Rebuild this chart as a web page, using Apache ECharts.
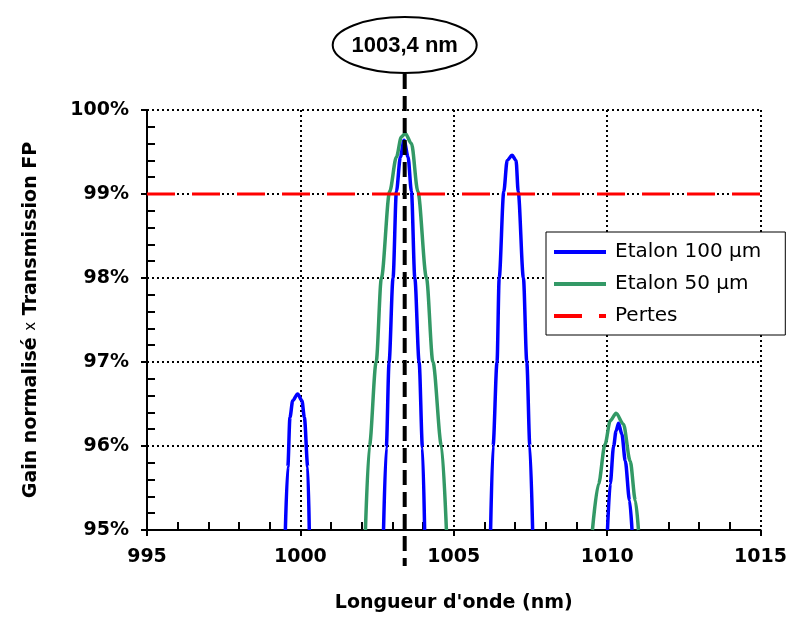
<!DOCTYPE html>
<html lang="fr">
<head>
<meta charset="UTF-8">
<title>Gain x Transmission FP</title>
<style>
* { margin: 0; padding: 0; }
#chart { width: 790px; height: 623px; }
</style>
</head>
<body>
<div id="chart"></div>
<script src="https://cdn.jsdelivr.net/npm/echarts@6/dist/echarts.min.js"></script>
<script>
// values: [wavelength nm, gain x transmission %]
var etalon100 = [
    [[999.51, 95.0], [999.59, 95.75], [999.66, 96.34], [999.75, 96.54], [999.91, 96.62], [1000.05, 96.54], [1000.13, 96.34], [1000.24, 95.75], [1000.29, 95.0]],
    [[1002.71, 95.0], [1002.80, 95.98], [1002.89, 96.99], [1003.02, 98.0], [1003.13, 99.03], [1003.26, 99.44], [1003.38, 99.64], [1003.51, 99.44], [1003.62, 99.03], [1003.73, 98.0], [1003.87, 97.0], [1003.98, 95.98], [1004.05, 95.0]],
    [[1006.20, 95.0], [1006.28, 96.0], [1006.41, 97.0], [1006.48, 98.0], [1006.63, 99.03], [1006.74, 99.40], [1006.90, 99.46], [1007.03, 99.40], [1007.10, 99.03], [1007.27, 98.0], [1007.38, 97.0], [1007.48, 96.0], [1007.57, 95.0]],
    [[1010.01, 95.0], [1010.10, 95.55], [1010.21, 96.0], [1010.29, 96.18], [1010.37, 96.27], [1010.48, 96.14], [1010.59, 95.82], [1010.73, 95.35], [1010.81, 95.0]]
];
var etalon50 = [
    [[1002.12, 95.0], [1002.25, 96.0], [1002.47, 97.0], [1002.64, 98.0], [1002.91, 99.03], [1003.13, 99.44], [1003.29, 99.68], [1003.42, 99.72], [1003.62, 99.6], [1003.83, 99.03], [1004.11, 98.0], [1004.32, 97.0], [1004.60, 96.0], [1004.76, 95.0]],
    [[1009.52, 95.0], [1009.72, 95.55], [1009.93, 96.02], [1010.10, 96.30], [1010.29, 96.39], [1010.53, 96.26], [1010.75, 95.82], [1010.92, 95.35], [1011.02, 95.0]]
];
var pertes = [[995, 99], [1015, 99]];
var peakWavelength = 1003.4;
var peakLabel = '1003,4 nm';

var chart = echarts.init(document.getElementById('chart'));
var font = 'DejaVu Sans';
var dotted = { color: '#000', width: 2, type: [2, 3] };

var series = [];
etalon100.forEach(function (pts) {
    series.push({
        name: 'Etalon 100 µm', type: 'line', data: pts, symbol: 'none', showSymbol: false,
        smooth: 0.3, smoothMonotone: 'x', z: 4,
        lineStyle: { color: '#0000ff', width: 3.5 }, itemStyle: { color: '#0000ff' }
    });
});
etalon50.forEach(function (pts) {
    series.push({
        name: 'Etalon 50 µm', type: 'line', data: pts, symbol: 'none', showSymbol: false,
        smooth: 0.3, smoothMonotone: 'x', z: 3,
        lineStyle: { color: '#339966', width: 3.5 }, itemStyle: { color: '#339966' }
    });
});
series.push({
    name: 'Pertes', type: 'line', data: pertes, symbol: 'none', showSymbol: false, z: 5,
    lineStyle: { color: '#ff0000', width: 3, type: [28, 17] }, itemStyle: { color: '#ff0000' }
});

chart.setOption({
    animation: false,
    backgroundColor: '#fff',
    grid: { left: 147, right: 28, top: 110, bottom: 93 },
    legend: {
        orient: 'vertical', left: 546, top: 232,
        data: ['Etalon 100 µm', 'Etalon 50 µm', 'Pertes'],
        backgroundColor: '#fff', borderColor: '#000', borderWidth: 1, borderRadius: 0,
        padding: [10, 24, 9, 6], itemGap: 12, itemWidth: 52, itemHeight: 14,
        itemStyle: { opacity: 0 },
        lineStyle: { width: 4 },
        textStyle: { fontFamily: font, fontSize: 20, color: '#000', padding: [0, 0, 0, 4] }
    },
    xAxis: {
        type: 'value', min: 995, max: 1015, interval: 5,
        name: "Longueur d'onde (nm)", nameLocation: 'middle', nameGap: 64,
        nameTextStyle: { fontFamily: font, fontSize: 19, fontWeight: 'bold', color: '#000' },
        axisLine: { onZero: false, lineStyle: { color: '#000', width: 2 } },
        axisTick: { inside: false, length: 6, lineStyle: { color: '#000', width: 2 } },
        minorTick: { show: true, splitNumber: 5, length: -8, lineStyle: { color: '#000', width: 2 } },
        axisLabel: {
            margin: 18, fontFamily: font, fontSize: 19, fontWeight: 'bold', color: '#000',
            formatter: function (v) { return String(v); }
        },
        splitLine: { show: true, lineStyle: dotted }
    },
    yAxis: {
        type: 'value', min: 95, max: 100, interval: 1,
        name: 'Gain normalisé {x|x} Transmission FP', nameLocation: 'middle', nameGap: 106, nameRotate: 90,
        nameTextStyle: {
            fontFamily: font, fontSize: 19, fontWeight: 'bold', color: '#000',
            rich: { x: { fontFamily: font, fontSize: 15, fontWeight: 'normal', color: '#000' } }
        },
        axisLine: { show: true, lineStyle: { color: '#000', width: 2 } },
        axisTick: { length: 6, lineStyle: { color: '#000', width: 2 } },
        minorTick: { show: true, splitNumber: 5, length: -8, lineStyle: { color: '#000', width: 2 } },
        axisLabel: {
            margin: 18, fontFamily: font, fontSize: 19, fontWeight: 'bold', color: '#000',
            formatter: function (v) { return v + '%'; }
        },
        splitLine: { show: true, lineStyle: dotted }
    },
    series: series
});

// annotation: vertical dashed line through the peak plus the oval label
var px = chart.convertToPixel({ xAxisIndex: 0 }, peakWavelength);
chart.setOption({
    graphic: [
        {
            type: 'line', z: 10,
            shape: { x1: px, y1: 74, x2: px, y2: 566 },
            style: { stroke: '#000', lineWidth: 4, lineDash: [15, 7] }
        },
        {
            type: 'ellipse', z: 10,
            shape: { cx: px, cy: 45, rx: 72, ry: 28 },
            style: { fill: '#fff', stroke: '#000', lineWidth: 2 }
        },
        {
            type: 'text', z: 11, x: px, y: 46,
            style: {
                text: peakLabel, fill: '#000', align: 'center', verticalAlign: 'middle',
                font: 'bold 22px "Liberation Sans Narrow", "Liberation Sans", sans-serif'
            }
        }
    ]
});
</script>
</body>
</html>
